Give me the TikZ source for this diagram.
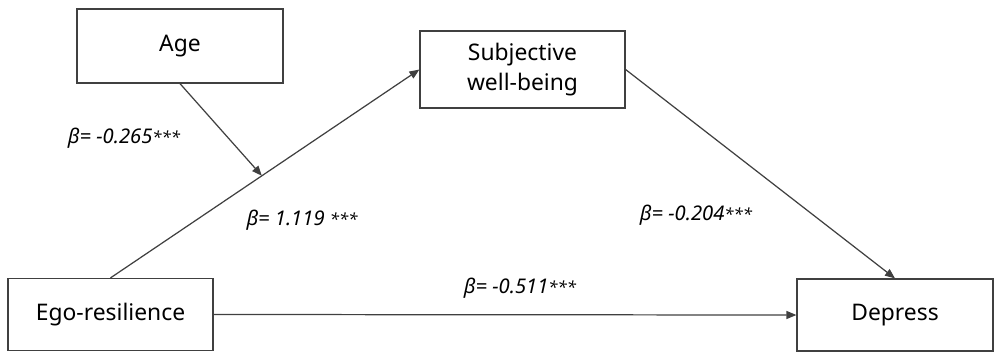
\documentclass[tikz,border=0pt]{standalone}
\usepackage{fontspec}
\setmainfont{Noto Sans}
\usepackage{tikz}
\usepackage{xcolor}
\usetikzlibrary{arrows.meta, positioning, calc}
\definecolor{linegray}{RGB}{64,64,64}
\newcommand{\sig}{{\fontsize{9.5}{10}\selectfont***}}

\begin{document}
\begin{tikzpicture}[x=0.02cm,y=-0.02cm,
  box/.style={draw=linegray,line width=0.7pt,fill=white,inner sep=0pt,
    font=\fontsize{13}{17}\selectfont,align=center},
  arr/.style={-{Triangle[length=0.2cm,width=0.16cm]},line width=0.7pt,draw=linegray},
  coef/.style={font=\fontsize{11.5}{14}\selectfont\itshape,inner sep=0pt}]
  \useasboundingbox (0,0) rectangle (1001,352);
  \node[box,minimum width=4.12cm,minimum height=1.48cm](age) at (180,46){Age};
  \node[box,minimum width=4.1cm,minimum height=1.54cm](swb) at (522.5,69.5){Subjective\\well-being};
  \node[box,minimum width=4.1cm,minimum height=1.44cm](ego) at (110.5,314.5){Ego-resilience};
  \node[box,minimum width=3.92cm,minimum height=1.44cm](dep) at (895,315){Depress};
  \node[coef](b1) at (124,138){β= -0.265\sig};
  \node[coef](b2) at (302,220){β= 1.119 \sig};
  \node[coef](b3) at (696,215){β= -0.204\sig};
  \node[coef](b4) at (520,288){β= -0.511\sig};
  \draw[arr](ego.north)--coordinate[pos=0.49](mod)(swb.west);
  \draw[arr](age.south)--(mod);
  \draw[arr](swb.east)--(dep.north);
  \draw[arr](ego.east)--(dep.west);
\end{tikzpicture}
\end{document}
